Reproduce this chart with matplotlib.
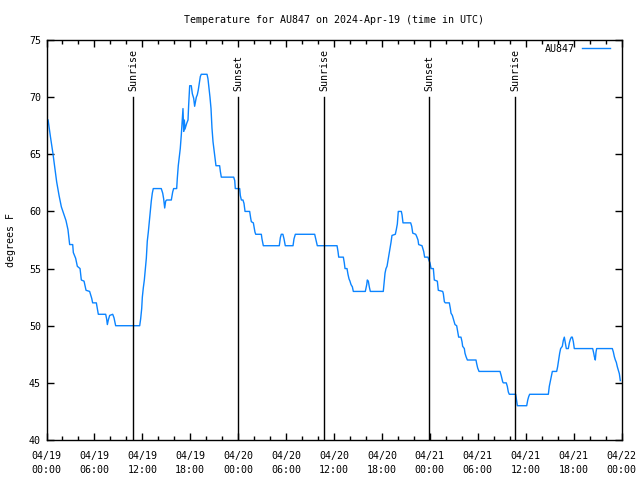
import matplotlib
matplotlib.use('Agg')
import matplotlib.pyplot as plt
import matplotlib.dates as mdates
import pandas as pd

# hours since 2024-04-19 00:00 UTC and temperature (F)
horas = [0.2, 0.5, 0.8, 1.05, 1.27, 1.57, 1.86, 2.15, 2.44, 2.69, 2.9, 3.28, 3.36, 3.65, 3.86,
         4.2, 4.36, 4.7, 4.95, 5.4, 5.66, 5.78, 6.24, 6.36, 6.49, 7.41, 7.53, 7.62, 7.74, 7.91,
         8.29, 8.45, 8.66, 11.67, 11.79, 11.92, 12.0, 12.12, 12.25, 12.37, 12.5, 12.62, 12.75,
         12.87, 13.0, 13.12, 13.25, 13.37, 14.37, 14.55, 14.67, 14.8, 14.92, 15.05, 15.63, 15.8,
         15.92, 16.3, 16.38, 16.5, 16.63, 16.75, 16.88, 17.0, 17.09, 17.18, 17.26, 17.34, 17.55,
         17.72, 17.8, 17.93, 18.13, 18.26, 18.43, 18.55, 18.63, 18.76, 18.88, 19.0, 19.13, 19.26,
         19.38, 20.1, 20.22, 20.35, 20.47, 20.6, 20.72, 20.85, 20.97, 21.1, 21.22, 21.68, 21.77,
         21.89, 23.44, 23.57, 23.64, 24.19, 24.27, 24.4, 24.6, 24.73, 24.86, 25.44, 25.57, 25.65,
         25.9, 25.98, 26.1, 26.2, 26.9, 26.98, 27.15, 29.15, 29.28, 29.4, 29.6, 29.74, 29.9,
         30.87, 30.99, 31.16, 33.58, 33.71, 33.91, 36.38, 36.5, 36.59, 37.17, 37.29, 37.38, 37.63,
         37.75, 37.88, 38.0, 38.13, 38.3, 38.42, 39.92, 40.1, 40.17, 40.3, 40.42, 40.55, 42.17,
         42.3, 42.39, 42.51, 42.64, 42.76, 42.89, 43.01, 43.14, 43.26, 43.68, 43.8, 43.93, 44.05,
         44.43, 44.52, 44.64, 45.6, 45.73, 45.86, 46.23, 46.36, 46.52, 46.6, 47.02, 47.1, 47.23,
         47.35, 47.77, 47.9, 48.02, 48.15, 48.44, 48.56, 48.94, 49.06, 49.61, 49.69, 49.82, 49.94,
         50.44, 50.57, 50.65, 50.82, 50.94, 51.15, 51.36, 51.49, 51.61, 51.9, 52.03, 52.11, 52.32,
         52.4, 52.53, 52.7, 53.78, 53.86, 53.99, 54.16, 56.79, 56.95, 57.12, 57.2, 57.57, 57.7,
         57.83, 57.95, 58.75, 58.88, 58.96, 60.13, 60.26, 60.38, 60.5, 62.84, 62.96, 63.08, 63.21,
         63.34, 63.88, 64.0, 64.13, 64.26, 64.38, 64.59, 64.71, 64.84, 64.96, 65.09, 65.34, 65.47,
         65.59, 65.72, 65.84, 65.97, 66.09, 68.39, 68.52, 68.6, 68.72, 68.81, 68.89, 70.85, 70.98,
         71.1, 71.23, 71.35, 71.48, 71.6, 71.73, 71.85]
temps = [68.0, 66.5, 65.1, 63.8, 62.6, 61.4, 60.4, 59.8, 59.2, 58.4, 57.1, 57.1, 56.4, 55.9, 55.2,
         55.0, 54.0, 53.9, 53.1, 53.0, 52.4, 52.0, 52.0, 51.5, 51.0, 51.0, 50.6, 50.1, 50.5, 50.9,
         51.0, 50.7, 50.0, 50.0, 50.6, 51.5, 52.5, 53.3, 54.0, 54.9, 55.9, 57.4, 58.2,
         59.1, 60.0, 60.9, 61.6, 62.0, 62.0, 61.6, 61.1, 60.3, 60.9, 61.0, 61.0, 61.7,
         62.0, 62.0, 62.9, 64.0, 64.8, 65.5, 66.7, 68.1, 69.0, 67.0, 68.0, 67.2, 67.7,
         68.0, 69.3, 71.0, 71.0, 70.3, 69.9, 69.2, 69.5, 70.0, 70.2, 70.6, 71.2, 71.8,
         72.0, 72.0, 71.6, 70.8, 70.0, 69.0, 67.3, 66.1, 65.4, 64.6, 64.0, 64.0, 63.5,
         63.0, 63.0, 62.7, 62.0, 62.0, 61.4, 61.0, 61.0, 60.7, 60.0, 60.0, 59.4, 59.1,
         59.0, 58.7, 58.2, 58.0, 58.0, 57.6, 57.0, 57.0, 57.7, 58.0, 58.0, 57.6, 57.0,
         57.0, 57.6, 58.0, 58.0, 57.6, 57.0, 57.0, 56.5, 56.0, 56.0, 55.5, 55.0, 55.0,
         54.5, 54.1, 53.9, 53.6, 53.4, 53.0, 53.0, 53.6, 54.0, 53.9, 53.4, 53.0, 53.0,
         54.0, 54.6, 55.0, 55.2, 55.7, 56.2, 56.8, 57.3, 57.9, 58.0, 58.4, 58.9, 60.0,
         60.0, 59.7, 59.0, 59.0, 58.7, 58.1, 58.0, 57.8, 57.5, 57.1, 57.0, 56.8, 56.5,
         56.0, 56.0, 55.7, 55.5, 55.0, 55.0, 54.0, 53.9, 53.1, 53.0, 52.8, 52.1, 52.0,
         52.0, 51.5, 51.1, 50.9, 50.6, 50.1, 50.0, 49.5, 49.0, 49.0, 48.6, 48.2, 48.0,
         47.6, 47.3, 47.0, 47.0, 46.7, 46.3, 46.0, 46.0, 45.6, 45.1, 45.0, 45.0, 44.7,
         44.2, 44.0, 44.0, 43.4, 43.0, 43.0, 43.5, 43.8, 44.0, 44.0, 44.7, 45.1, 45.5,
         46.0, 46.0, 46.4, 47.0, 47.6, 48.0, 48.2, 48.7, 49.0, 48.5, 48.0, 48.0, 48.5,
         48.8, 49.0, 49.0, 48.6, 48.0, 48.0, 47.6, 47.3, 47.0, 47.7, 48.0, 48.0, 47.7,
         47.3, 47.0, 46.8, 46.4, 46.1, 45.8, 45.2]

sol_horas = [10.87, 24.02, 34.79, 47.93, 58.7]
sol_nombres = ['Sunrise', 'Sunset', 'Sunrise', 'Sunset', 'Sunrise']

inicio = pd.Timestamp('2024-04-19 00:00')
fechas = inicio + pd.to_timedelta(horas, unit='h')
fechas_sol = inicio + pd.to_timedelta(sol_horas, unit='h')

plt.rcParams['font.family'] = 'DejaVu Sans Mono'
plt.rcParams['font.size'] = 7.2

fig = plt.figure(figsize=(6.4, 4.8), dpi=100)
ax = fig.add_axes([46.5 / 640, 40 / 480, 575 / 640, 400 / 480])

ax.plot(fechas, temps, color='#0b84ff', linewidth=1.0, label='AU847')

for f, nombre in zip(fechas_sol, sol_nombres):
    ax.plot([f, f], [40, 70], color='black', linewidth=1.0)
    ax.text(f, 70.5, nombre, rotation=90, ha='center', va='bottom')

ax.set_xlim(inicio, inicio + pd.Timedelta(hours=72))
ax.set_ylim(40, 75)
ax.set_yticks(range(40, 76, 5))
ax.xaxis.set_major_locator(mdates.HourLocator(byhour=range(0, 24, 6)))
ax.xaxis.set_minor_locator(mdates.HourLocator(byhour=range(0, 24, 2)))
ax.xaxis.set_major_formatter(mdates.DateFormatter('%m/%d\n%H:%M'))
ax.tick_params(which='major', direction='in', length=5, width=1, top=True, right=True, pad=4)
ax.tick_params(axis='x', which='major', pad=8)
ax.tick_params(which='minor', direction='in', length=3, width=1, top=True, right=False)
ax.tick_params(axis='y', which='minor', left=False, right=False)
for lbl in ax.get_xticklabels():
    lbl.set_linespacing(1.5)
for s in ax.spines.values():
    s.set_linewidth(1.0)

ax.set_ylabel('degrees F', labelpad=9)
ax.set_title('Temperature for AU847 on 2024-Apr-19 (time in UTC)', fontsize=7.2, pad=12)
ax.legend(loc='upper right', bbox_to_anchor=(0.987, 1.0), frameon=False, markerfirst=False,
          handlelength=2.8, borderaxespad=0, handletextpad=0.7)

plt.savefig('out.png', dpi=100)
